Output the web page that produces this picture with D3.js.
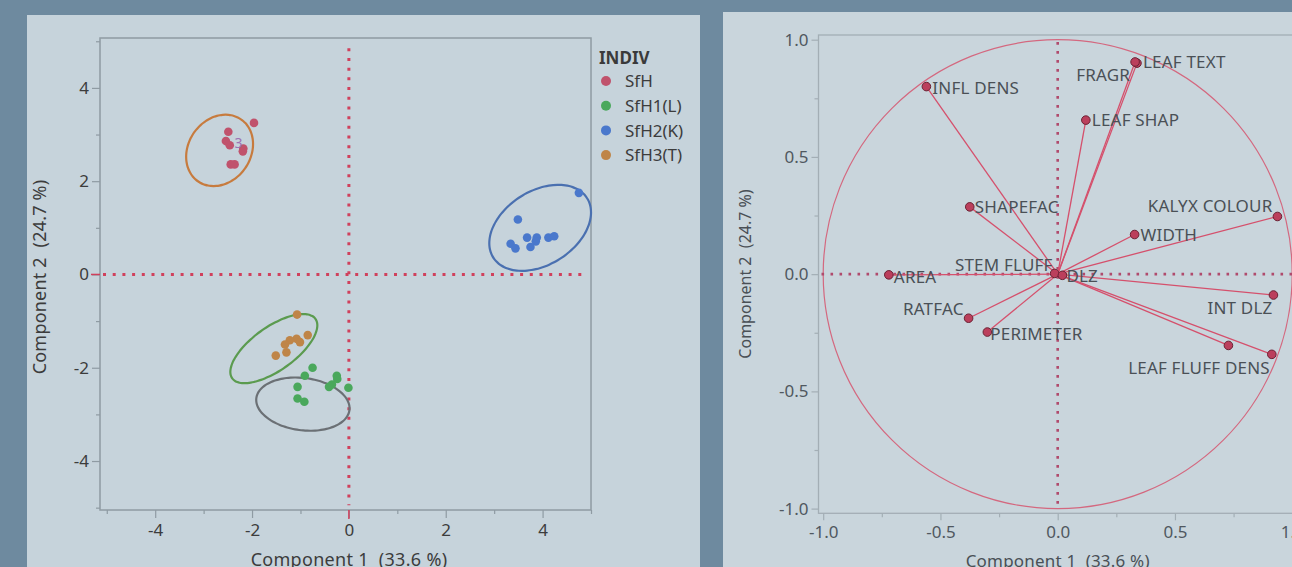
<!DOCTYPE html>
<html>
<head>
<meta charset="utf-8">
<script src="https://cdn.jsdelivr.net/npm/d3@7"></script>
<style>
  body { margin: 0; background: #6e8a9f; }
  svg { display: block; font-family: "Noto Sans", "Open Sans", sans-serif; }
  .title { white-space: pre; }
</style>
</head>
<body>
<div id="chart"></div>
<script>
// ---- score plot data (Component 1, Component 2) ----
var groups = ['SfH', 'SfH1(L)', 'SfH2(K)', 'SfH3(T)'];
var groupColors = ['#c0526c', '#4aa85c', '#4a78cc', '#bf8548'];

var sfhX  = [-1.96, -2.49, -2.54, -2.46, -2.18, -2.19, -2.44, -2.36];
var sfhY  = [ 3.25,  3.06,  2.86,  2.77,  2.70,  2.64,  2.36,  2.36];
var sfh1X = [-0.75, -0.91, -0.25, -0.24, -0.35, -0.41, -0.01, -1.06, -1.06, -0.92];
var sfh1Y = [-2.00, -2.17, -2.17, -2.24, -2.36, -2.41, -2.43, -2.41, -2.66, -2.73];
var sfh2X = [4.75, 3.49, 3.34, 3.44, 3.68, 3.88, 3.86, 3.75, 4.12, 4.24];
var sfh2Y = [1.75, 1.18, 0.66, 0.56, 0.79, 0.79, 0.71, 0.59, 0.79, 0.82];
var sfh3X = [-1.07, -0.85, -1.08, -1.22, -1.01, -1.32, -1.29, -1.51];
var sfh3Y = [-0.86, -1.30, -1.38, -1.41, -1.45, -1.50, -1.67, -1.74];

// density ellipses: centre, semi axes, angle (deg)
var ellCx    = [-2.67, 3.95, -1.55, -0.95];
var ellCy    = [ 2.66, 1.00, -1.59, -2.78];
var ellA     = [ 0.80, 1.16,  1.07,  0.97];
var ellB     = [ 0.65, 0.78,  0.46,  0.56];
var ellAngle = [   60,   35,    37,    -8];
var ellColors = ['#c77b3e', '#4a70b0', '#5b9b4f', '#6b7075'];

// ---- loading plot data ----
var loadNames = ['INFL DENS', 'LEAF TEXT', 'FRAGR', 'LEAF SHAP', 'SHAPEFAC', 'KALYX COLOUR', 'WIDTH',
                 'AREA', 'STEM FLUFF', 'DLZ', 'INT DLZ', 'LEAF FLUFF DENS', '', 'RATFAC', 'PERIMETER'];
var loadX = [-0.56, 0.338, 0.33, 0.12, -0.375, 0.937, 0.328, -0.72, -0.013, 0.02, 0.92, 0.913, 0.728, -0.38, -0.30];
var loadY = [ 0.80, 0.90, 0.905, 0.657, 0.287, 0.246, 0.169, -0.003, 0.003, -0.005, -0.089, -0.342, -0.304, -0.188, -0.247];

// where each label sits relative to its marker
var labelPlace = {
  'INFL DENS': ['start', 6, 7], 'LEAF TEXT': ['start', 6, 5], 'FRAGR': ['end', -5, 19],
  'LEAF SHAP': ['start', 6, 6], 'SHAPEFAC': ['start', 5, 6], 'KALYX COLOUR': ['end', -5, -4],
  'WIDTH': ['start', 6, 6], 'AREA': ['start', 5, 8], 'STEM FLUFF': ['end', -2, -2],
  'DLZ': ['start', 4, 7], 'INT DLZ': ['end', -1, 19], 'LEAF FLUFF DENS': ['end', -2, 20],
  'RATFAC': ['end', -5, -3], 'PERIMETER': ['start', 3, 8]
};

var W = 1292, H = 567;
var svg = d3.select('#chart').append('svg').attr('width', W).attr('height', H);
svg.append('rect').attr('width', W).attr('height', H).attr('fill', '#6e8a9f');
svg.append('rect').attr('x', 27).attr('y', 15).attr('width', 673).attr('height', 552).attr('fill', '#c6d3db');
svg.append('rect').attr('x', 723).attr('y', 12).attr('width', 569).attr('height', 555).attr('fill', '#c9d5dc');

var tickColor = '#3c3c3c';
// JMP style labels use a plain hyphen as minus
function fmt(spec) {
  var f = d3.format(spec);
  return function (d) { return f(d).replace('\u2212', '-'); };
}

function styleAxis(g, col) {
  g.select('.domain').remove();
  g.selectAll('line').attr('stroke', col).attr('stroke-width', 1.2);
  g.selectAll('text').attr('fill', tickColor).style('font-size', '17px')
    .style('font-family', '"Noto Sans", "Open Sans", sans-serif');
}

// ================= left: score plot =================
var x1 = d3.scaleLinear().domain([-5.14, 5.0]).range([100, 591]);
var y1 = d3.scaleLinear().domain([-5.05, 5.07]).range([510, 38]);
var left = svg.append('g');

var xMajor = d3.range(-4, 5, 2), xMinor = d3.range(-5, 6, 1).filter(function (v) { return v % 2 !== 0; });
left.append('g').attr('transform', 'translate(0,510)')
  .call(d3.axisBottom(x1).tickValues(xMinor).tickSize(4).tickFormat(''))
  .call(styleAxis, '#8f9ba3');
left.append('g').attr('transform', 'translate(0,510)')
  .call(d3.axisBottom(x1).tickValues(xMajor).tickSize(8).tickPadding(6).tickFormat(fmt('d')))
  .call(styleAxis, '#8f9ba3');
left.append('g').attr('transform', 'translate(100,0)')
  .call(d3.axisLeft(y1).tickValues([-5, -3, -1, 1, 3, 5]).tickSize(4).tickFormat(''))
  .call(styleAxis, '#8f9ba3');
left.append('g').attr('transform', 'translate(100,0)')
  .call(d3.axisLeft(y1).tickValues(xMajor).tickSize(8).tickPadding(3).tickFormat(fmt('d')))
  .call(styleAxis, '#8f9ba3');

left.append('rect').attr('x', 100).attr('y', 38).attr('width', 491).attr('height', 472)
  .attr('fill', 'none').attr('stroke', '#8f9ba3').attr('stroke-width', 1.5);

// red zero ticks
left.append('line').attr('x1', x1(0)).attr('x2', x1(0)).attr('y1', 510).attr('y2', 519)
  .attr('stroke', '#d0405c').attr('stroke-width', 1.5);
left.append('line').attr('x1', 91).attr('x2', 100).attr('y1', y1(0)).attr('y2', y1(0))
  .attr('stroke', '#d0405c').attr('stroke-width', 1.5);

// dotted reference lines
left.append('line').attr('x1', x1(-5.14) + 3).attr('x2', x1(4.8)).attr('y1', y1(0)).attr('y2', y1(0))
  .attr('stroke', '#d0405c').attr('stroke-width', 3).attr('stroke-dasharray', '3,6.7');
left.append('line').attr('x1', x1(0)).attr('x2', x1(0)).attr('y1', y1(4.85)).attr('y2', y1(-4.95))
  .attr('stroke', '#d0405c').attr('stroke-width', 3).attr('stroke-dasharray', '3,6.7');

// ellipses
var tSteps = d3.range(0, 360, 5);
var ellLine = d3.line().curve(d3.curveCardinalClosed);
for (var e = 0; e < ellCx.length; e++) {
  var th = ellAngle[e] * Math.PI / 180;
  var pts = tSteps.map(function (deg) {
    var t = deg * Math.PI / 180;
    var dx = ellA[e] * Math.cos(t), dy = ellB[e] * Math.sin(t);
    return [x1(ellCx[e] + dx * Math.cos(th) - dy * Math.sin(th)),
            y1(ellCy[e] + dx * Math.sin(th) + dy * Math.cos(th))];
  });
  left.append('path').attr('d', ellLine(pts)).attr('fill', 'none')
    .attr('stroke', ellColors[e]).attr('stroke-width', 2.2);
}

// points
var seriesX = [sfhX, sfh1X, sfh2X, sfh3X], seriesY = [sfhY, sfh1Y, sfh2Y, sfh3Y];
for (var s = 0; s < groups.length; s++) {
  var pdata = seriesX[s].map(function (v, i) { return [v, seriesY[s][i]]; });
  left.append('g').selectAll('circle').data(pdata).enter().append('circle')
    .attr('cx', function (d) { return x1(d[0]); })
    .attr('cy', function (d) { return y1(d[1]); })
    .attr('r', 4.3)
    .attr('fill', groupColors[s]);
}
left.append('text').attr('x', x1(-2.28)).attr('y', y1(2.82)).attr('dy', '0.35em')
  .attr('text-anchor', 'middle').attr('fill', '#9d72b4').style('font-size', '14px').text('3');

// axis titles
left.append('text').attr('class', 'title').attr('x', 349).attr('y', 566).attr('text-anchor', 'middle')
  .attr('fill', tickColor).style('font-size', '18px').style('letter-spacing', '0.3px')
  .text('Component 1  (33.6 %)');
left.append('text').attr('class', 'title').attr('transform', 'translate(46,277) rotate(-90)').attr('text-anchor', 'middle')
  .attr('fill', tickColor).style('font-size', '18px').style('letter-spacing', '0.2px')
  .text('Component 2  (24.7 %)');

// legend
var lg = left.append('g').attr('transform', 'translate(599,0)');
lg.append('text').attr('x', 0).attr('y', 64).attr('fill', '#3a3a3a')
  .style('font-size', '17px').style('font-weight', 'bold').text('INDIV');
groups.forEach(function (gname, i) {
  var yy = 81 + i * 24.7;
  lg.append('circle').attr('cx', 7).attr('cy', yy).attr('r', 5).attr('fill', groupColors[i]);
  lg.append('text').attr('x', 26).attr('y', yy).attr('dy', '0.36em').attr('fill', tickColor)
    .style('font-size', '17px').text(gname);
});

// ================= right: loading plot =================
var x2 = d3.scaleLinear().domain([-1.02, 1.02]).range([818.5, 1296.9]);
var y2 = d3.scaleLinear().domain([-1.02, 1.02]).range([513.3, 35]);
var right = svg.append('g');
var frameCol = '#a3aeb5';

right.append('g').attr('transform', 'translate(0,513.3)')
  .call(d3.axisBottom(x2).tickValues([-0.75, -0.25, 0.25, 0.75]).tickSize(4).tickFormat(''))
  .call(styleAxis, frameCol);
right.append('g').attr('transform', 'translate(0,513.3)')
  .call(d3.axisBottom(x2).tickValues([-1, -0.5, 0, 0.5, 1]).tickSize(7).tickPadding(6).tickFormat(fmt('.1f')))
  .call(styleAxis, frameCol);
right.append('g').attr('transform', 'translate(818.5,0)')
  .call(d3.axisLeft(y2).tickValues([-0.75, -0.25, 0.25, 0.75]).tickSize(4).tickFormat(''))
  .call(styleAxis, frameCol);
right.append('g').attr('transform', 'translate(818.5,0)')
  .call(d3.axisLeft(y2).tickValues([-1, -0.5, 0, 0.5, 1]).tickSize(7).tickPadding(3).tickFormat(fmt('.1f')))
  .call(styleAxis, frameCol);
right.selectAll('.tick text').attr('fill', '#505860');

right.append('rect').attr('x', 818.5).attr('y', 35).attr('width', 478.4).attr('height', 478.3)
  .attr('fill', 'none').attr('stroke', frameCol).attr('stroke-width', 1.3);

// unit circle
right.append('ellipse').attr('cx', x2(0)).attr('cy', y2(0))
  .attr('rx', x2(1) - x2(0)).attr('ry', y2(0) - y2(1))
  .attr('fill', 'none').attr('stroke', '#d4687f').attr('stroke-width', 1.2);

// dotted reference lines
right.append('line').attr('x1', x2(-1.02) + 3).attr('x2', x2(1.02)).attr('y1', y2(0)).attr('y2', y2(0))
  .attr('stroke', '#b04a6c').attr('stroke-width', 2.6).attr('stroke-dasharray', '2.6,6.4');
right.append('line').attr('x1', x2(0)).attr('x2', x2(0)).attr('y1', y2(0.99)).attr('y2', y2(-0.99))
  .attr('stroke', '#b04a6c').attr('stroke-width', 2.6).attr('stroke-dasharray', '2.6,6.4');

var ldata = loadNames.map(function (n, i) { return { name: n, x: loadX[i], y: loadY[i] }; });

right.append('g').selectAll('line').data(ldata).enter().append('line')
  .attr('x1', x2(0)).attr('y1', y2(0))
  .attr('x2', function (d) { return x2(d.x); })
  .attr('y2', function (d) { return y2(d.y); })
  .attr('stroke', '#d5506c').attr('stroke-width', 1.3);

right.append('g').selectAll('circle').data(ldata).enter().append('circle')
  .attr('cx', function (d) { return x2(d.x); })
  .attr('cy', function (d) { return y2(d.y); })
  .attr('r', 4.3)
  .attr('fill', '#bb3f5c').attr('stroke', '#6b2234').attr('stroke-width', 1);

right.append('g').selectAll('text').data(ldata.filter(function (d) { return d.name !== ''; })).enter().append('text')
  .attr('x', function (d) { return x2(d.x) + labelPlace[d.name][1]; })
  .attr('y', function (d) { return y2(d.y) + labelPlace[d.name][2]; })
  .attr('text-anchor', function (d) { return labelPlace[d.name][0]; })
  .attr('fill', '#4a5056').style('font-size', '17px').style('letter-spacing', '0.2px')
  .text(function (d) { return d.name; });

right.append('text').attr('class', 'title').attr('x', x2(0)).attr('y', 567).attr('text-anchor', 'middle')
  .attr('fill', '#4a5056').style('font-size', '17px').style('letter-spacing', '0.2px')
  .text('Component 1  (33.6 %)');
right.append('text').attr('class', 'title').attr('transform', 'translate(751,274) rotate(-90)').attr('text-anchor', 'middle')
  .attr('fill', '#4a5056').style('font-size', '16px').text('Component 2  (24.7 %)');
</script>
</body>
</html>
